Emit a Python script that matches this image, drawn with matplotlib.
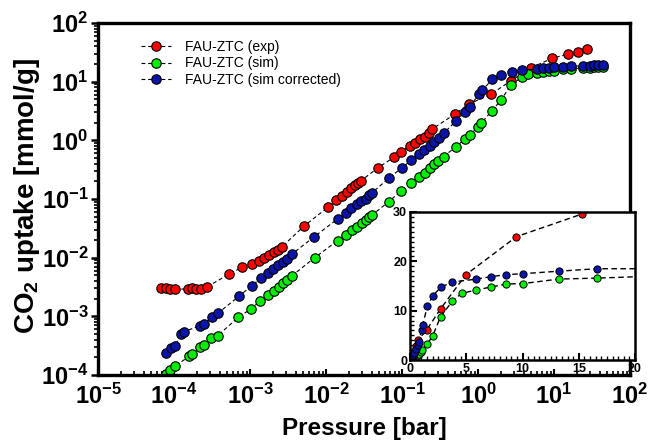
import numpy as np
import matplotlib
matplotlib.use("Agg")
import matplotlib.pyplot as plt
from matplotlib.ticker import LogLocator, FixedLocator, MultipleLocator, FuncFormatter, NullFormatter

plt.rcParams['font.family'] = ['Liberation Sans', 'DejaVu Sans']
plt.rcParams['mathtext.fontset'] = 'custom'
plt.rcParams['mathtext.rm'] = 'Liberation Sans'
plt.rcParams['mathtext.bf'] = 'Liberation Sans:bold'

# CO2 isotherms, pressure in bar, uptake in mmol/g
p_exp = [6.84e-5, 7.94e-5, 8.97e-5, 1.02e-4, 1.53e-4, 1.74e-4, 1.95e-4, 2.24e-4, 2.69e-4,
         5.37e-4, 7.87e-4, 1.05e-3, 1.33e-3, 1.55e-3, 1.79e-3, 2.04e-3, 2.31e-3, 2.60e-3,
         5.16e-3, 1.06e-2, 1.37e-2, 1.64e-2, 1.87e-2, 2.15e-2, 2.38e-2, 2.63e-2, 2.90e-2,
         4.86e-2, 7.82e-2, 9.82e-2, 0.126, 0.150, 0.175, 0.199, 0.224, 0.248,
         0.50, 0.75, 1.50, 2.72, 4.97, 9.46, 15.3, 20.7, 27.5]
q_exp = [3.09e-3, 3.02e-3, 2.88e-3, 2.88e-3, 2.95e-3, 3.02e-3, 2.92e-3, 2.88e-3, 3.16e-3,
         5.30e-3, 6.84e-3, 7.94e-3, 8.81e-3, 1.0e-2, 1.11e-2, 1.24e-2, 1.36e-2, 1.51e-2,
         3.48e-2, 7.24e-2, 9.55e-2, 0.113, 0.134, 0.153, 0.172, 0.191, 0.206,
         0.343, 0.515, 0.643, 0.804, 0.891, 1.04, 1.16, 1.35, 1.55,
         2.82, 4.12, 6.17, 10.4, 17.3, 25.0, 29.6, 32.4, 35.6]

p_sim = [7.78e-5, 8.97e-5, 1.02e-4, 1.57e-4, 1.74e-4, 2.21e-4, 2.45e-4, 3.09e-4, 3.78e-4,
         7.05e-4, 1.03e-3, 1.36e-3, 1.71e-3, 2.09e-3, 2.38e-3, 2.69e-3, 3.03e-3, 3.59e-3,
         7.08e-3, 1.42e-2, 1.81e-2, 2.17e-2, 2.58e-2, 2.99e-2, 3.31e-2, 3.67e-2, 4.06e-2,
         6.71e-2, 9.82e-2, 0.133, 0.166, 0.199, 0.231, 0.261, 0.294, 0.353,
         0.512, 0.678, 0.774, 1.00, 1.10, 1.52, 2.01, 2.72, 3.75, 4.58, 5.90, 7.21,
         8.57, 10.07, 13.2, 16.6, 24.2, 29.5, 33.6, 38.0, 44.2]
q_sim = [1.05e-4, 1.23e-4, 1.40e-4, 2.07e-4, 2.30e-4, 3.06e-4, 3.27e-4, 4.25e-4, 4.71e-4,
         9.68e-4, 1.34e-3, 1.84e-3, 2.32e-3, 2.72e-3, 3.22e-3, 3.72e-3, 4.19e-3, 4.95e-3,
         1.0e-2, 1.95e-2, 2.44e-2, 2.97e-2, 3.39e-2, 3.86e-2, 4.41e-2, 4.90e-2, 5.36e-2,
         9.04e-2, 0.139, 0.190, 0.241, 0.282, 0.334, 0.392, 0.451, 0.527,
         0.782, 1.06, 1.24, 1.71, 1.95, 3.18, 4.88, 8.79, 11.9, 13.5, 14.2, 14.8,
         15.4, 15.5, 16.4, 16.6, 17.2, 17.4, 17.6, 17.8, 17.8]

p_cor = [7.78e-5, 9.25e-5, 1.04e-4, 1.25e-4, 1.34e-4, 2.17e-4, 2.45e-4, 3.15e-4, 3.78e-4,
         7.26e-4, 1.05e-3, 1.38e-3, 1.71e-3, 2.03e-3, 2.34e-3, 2.72e-3, 3.09e-3, 3.55e-3,
         7.05e-3, 1.42e-2, 1.81e-2, 2.15e-2, 2.58e-2, 2.92e-2, 3.31e-2, 3.67e-2, 4.06e-2,
         6.71e-2, 0.100, 0.133, 0.166, 0.197, 0.231, 0.261, 0.303, 0.353,
         0.512, 0.678, 0.774, 1.03, 1.12, 1.55, 2.01, 2.77, 3.75, 5.90, 7.21, 8.57,
         10.07, 13.2, 16.6, 24.2, 29.5, 33.6, 38.0, 44.2]
q_cor = [2.42e-4, 2.87e-4, 3.18e-4, 5.04e-4, 5.45e-4, 6.89e-4, 7.45e-4, 9.68e-4, 1.13e-3,
         2.23e-3, 3.31e-3, 4.42e-3, 5.45e-3, 6.41e-3, 7.45e-3, 8.43e-3, 9.48e-3, 1.15e-2,
         2.29e-2, 4.58e-2, 5.86e-2, 6.97e-2, 8.15e-2, 9.16e-2, 0.101, 0.115, 0.129,
         0.226, 0.343, 0.463, 0.579, 0.685, 0.804, 0.927, 1.08, 1.32,
         2.14, 3.08, 3.75, 6.10, 7.08, 10.96, 13.0, 14.8, 15.8, 16.4, 16.9, 17.3,
         17.5, 18.0, 18.5, 18.5, 18.7, 19.0, 19.2, 19.2]

series = [
    (p_exp, q_exp, '#ff0000', 'FAU-ZTC (exp)'),
    (p_sim, q_sim, '#00ee00', 'FAU-ZTC (sim)'),
    (p_cor, q_cor, '#0a14a8', 'FAU-ZTC (sim corrected)'),
]

fig = plt.figure(figsize=(6.53, 4.48), dpi=100)
ax = fig.add_axes([0.1501, 0.1629, 0.8147, 0.7857])

for p, q, c, lab in series:
    ax.plot(p, q, linestyle=(0, (3.5, 2.5)), color='black', linewidth=0.8,
            marker='o', markersize=6.8, markerfacecolor=c, markeredgecolor='black',
            markeredgewidth=0.8, label=lab)

ax.set_xscale('log')
ax.set_yscale('log')
ax.set_xlim(1e-5, 1e2)
ax.set_ylim(1e-4, 1e2)

dec_fmt = FuncFormatter(lambda v, pos: r'$\mathbf{10^{%d}}$' % round(np.log10(v)))
ax.xaxis.set_major_locator(LogLocator(base=10, numticks=20))
ax.yaxis.set_major_locator(LogLocator(base=10, numticks=20))
ax.xaxis.set_minor_locator(LogLocator(base=10, subs=np.arange(2, 10), numticks=20))
ax.yaxis.set_minor_locator(LogLocator(base=10, subs=np.arange(2, 10), numticks=20))
ax.xaxis.set_major_formatter(dec_fmt)
ax.yaxis.set_major_formatter(dec_fmt)
ax.xaxis.set_minor_formatter(NullFormatter())
ax.yaxis.set_minor_formatter(NullFormatter())

ax.tick_params(axis='x', which='major', direction='in', length=4, width=1.5, labelsize=17, pad=6)
ax.tick_params(axis='x', which='minor', direction='in', length=3, width=1.2)
ax.tick_params(axis='y', which='major', direction='out', length=5, width=1.8, labelsize=17, pad=2)
ax.tick_params(axis='y', which='minor', direction='out', length=3, width=1.2)

for s in ax.spines.values():
    s.set_linewidth(2.4)

ax.set_xlabel('Pressure [bar]', fontsize=17.5, fontweight='bold')
ax.set_ylabel(r'CO$_\mathbf{2}$ uptake [mmol/g]', fontsize=20, fontweight='bold')
ax.xaxis.set_label_coords(0.5, -0.12)
ax.yaxis.set_label_coords(-0.105, 0.51)

ax.legend(loc='upper left', bbox_to_anchor=(0.08, 0.952), frameon=False, fontsize=10,
          borderpad=0, borderaxespad=0, labelspacing=0.18, handlelength=2.2,
          handletextpad=1.0, numpoints=1)

# linear-scale inset
ins = fig.add_axes([0.6279, 0.1964, 0.3446, 0.3304])
ins.set_facecolor('white')
for p, q, c, lab in series:
    ins.plot(p, q, linestyle=(0, (4, 2.5)), color='black', linewidth=1.0,
             marker='o', markersize=5.2, markerfacecolor=c, markeredgecolor='black',
             markeredgewidth=0.7)
ins.set_xlim(0, 20)
ins.set_ylim(0, 30)
ins.xaxis.set_major_locator(FixedLocator([0, 5, 10, 15, 20]))
ins.yaxis.set_major_locator(FixedLocator([0, 10, 20, 30]))
ins.xaxis.set_minor_locator(MultipleLocator(0.5))
ins.yaxis.set_minor_locator(MultipleLocator(1))
ins.tick_params(which='major', direction='in', length=5, width=1.5, labelsize=9, pad=2)
ins.tick_params(which='minor', direction='in', length=3, width=1.0)
for lbl in ins.get_xticklabels() + ins.get_yticklabels():
    lbl.set_fontweight('bold')
for s in ins.spines.values():
    s.set_linewidth(1.8)

fig.savefig('out.png', dpi=100)
